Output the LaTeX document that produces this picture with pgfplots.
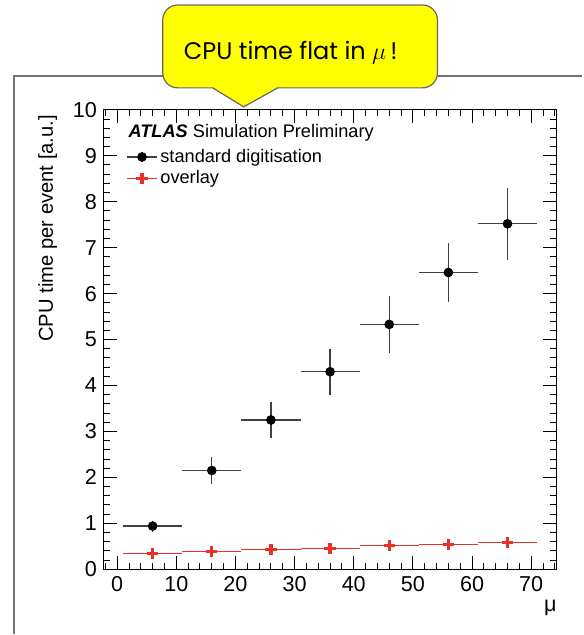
\documentclass[border=0pt]{standalone}
\usepackage{fontspec}
\setmainfont{Liberation Sans}
\newfontfamily\callfont{Poppins}
\usepackage{pgfplots}
\pgfplotsset{compat=1.18}
\usepackage{pgfplotstable}
\definecolor{atlasred}{RGB}{230,50,40}
\definecolor{callyellow}{RGB}{255,255,0}

\pgfplotstableread{
x y ex ey
6 0.94 5 0.12
16 2.15 5 0.30
26 3.25 5 0.39
36 4.30 5 0.50
46 5.33 5 0.62
56 6.46 5 0.65
66 7.52 5 0.78
}\stdtable

\pgfplotstableread{
x y ex ey
6 0.35 5 0.03
16 0.38 5 0.03
26 0.43 5 0.03
36 0.46 5 0.03
46 0.51 5 0.03
56 0.54 5 0.03
66 0.58 5 0.03
}\ovltable

\begin{document}
\begin{tikzpicture}
\path (0,0) rectangle (291.5pt,317.5pt);
% outer frame
\draw[black!55, line width=0.8pt] (7pt,0pt) -- (7pt,279.5pt) -- (291.5pt,279.5pt);

\begin{axis}[
  at={(52pt,32.5pt)}, anchor=south west,
  scale only axis, width=226.5pt, height=230pt,
  xmin=-2.25, xmax=74.25, ymin=0, ymax=10,
  xtick={0,10,...,70}, ytick={0,1,...,10},
  xticklabel pos=lower, yticklabel pos=left,
  major tick length=0pt, minor tick length=0pt,
  axis line style={line width=0.6pt},
  xticklabel={\pgfmathprintnumber[assume math mode=true]{\tick}},
  yticklabel={\pgfmathprintnumber[assume math mode=true]{\tick}},
  tick label style={font=\fontsize{10.8}{12}\selectfont},
  ylabel={CPU time per event [a.u.]},
  ylabel style={at={(axis description cs:-0.124,1.004)}, anchor=east, font=\fontsize{10.1}{12}\selectfont},
  xlabel={μ},
  xlabel style={at={(axis description cs:0.987,-0.083)}, anchor=center, font=\fontsize{10.8}{12}\selectfont},
  legend style={at={(axis cs:1.5,9.22)}, anchor=north west, draw=none, fill=none,
    inner sep=0pt, row sep=0pt, font=\fontsize{9.1}{10.5}\selectfont, cells={anchor=west},
    nodes={inner sep=1.4pt}},
  legend cell align=left,
]
\addplot[only marks, mark=*, mark size=2.2pt, black,
  legend image code/.code={
  \draw[black!75,line width=0.6pt] (0pt,0pt) -- (15pt,0pt);
  \draw[black!75,line width=0.6pt] (7.5pt,-2.5pt) -- (7.5pt,2.5pt);
  \fill[black] (7.5pt,0pt) circle (2.2pt);},
  error bars/.cd, x dir=both, x explicit, y dir=both, y explicit,
  error bar style={black!75, line width=0.6pt}, error mark=none]
  table[x=x, y=y, x error=ex, y error=ey] {\stdtable};
\addlegendentry{standard digitisation}
\addplot[only marks, mark=+, mark size=2.8pt, atlasred, mark options={line width=1.6pt},
  legend image code/.code={
  \draw[atlasred,line width=0.6pt] (0pt,0pt) -- (15pt,0pt);
  \draw[atlasred,line width=1.6pt] (7.5pt,-2.8pt) -- (7.5pt,2.8pt);
  \draw[atlasred,line width=1.6pt] (4.7pt,0pt) -- (10.3pt,0pt);},
  error bars/.cd, x dir=both, x explicit, y dir=both, y explicit,
  error bar style={atlasred, line width=0.5pt}, error mark=none]
  table[x=x, y=y, x error=ex, y error=ey] {\ovltable};
\addlegendentry{overlay}
\node[anchor=base west, font=\fontsize{9.1}{10.5}\selectfont] at (axis cs:0.74,9.39)
  {\textbf{\textit{ATLAS}} Simulation Preliminary};
\end{axis}

% axis ticks (ROOT style, on all four sides, pointing inward)
\begin{scope}[black, line width=0.5pt]
\foreach \v in {0,10,20,30,40,50,60,70} {
  \pgfmathsetmacro\px{52+(\v+2.25)*2.96078}
  \draw (\px pt,32.5pt) -- ++(0pt,6.5pt);
  \draw (\px pt,262.5pt) -- ++(0pt,-6.5pt);
}
\foreach \v in {-2,2,4,6,8,12,14,16,18,22,24,26,28,32,34,36,38,42,44,46,48,52,54,56,58,62,64,66,68,72,74} {
  \pgfmathsetmacro\px{52+(\v+2.25)*2.96078}
  \draw (\px pt,32.5pt) -- ++(0pt,3.2pt);
  \draw (\px pt,262.5pt) -- ++(0pt,-3.2pt);
}
\foreach \i in {0,...,50} {
  \pgfmathsetmacro\py{32.5+\i*4.6}
  \pgfmathtruncatemacro\m{mod(\i,5)}
  \ifnum\m=0
    \draw (52pt,\py pt) -- ++(6.5pt,0pt);
    \draw (278.5pt,\py pt) -- ++(-6.5pt,0pt);
  \else
    \draw (52pt,\py pt) -- ++(3.2pt,0pt);
    \draw (278.5pt,\py pt) -- ++(-3.2pt,0pt);
  \fi
}
\end{scope}

% callout
\filldraw[fill=callyellow, draw=black!60, line width=0.6pt, rounded corners=7.5pt]
  (81.5pt,273.5pt) rectangle (219pt,315pt);
\fill[callyellow] (106pt,274.2pt) -- (122pt,264pt) -- (139.5pt,274.2pt) -- cycle;
\draw[black!60, line width=0.6pt] (106.5pt,273.5pt) -- (122pt,264pt) -- (139pt,273.5pt);
\node[font=\callfont\fontsize{12}{14}\selectfont] at (145.5pt,291pt) {CPU time flat in $\mu$\,!};
\end{tikzpicture}
\end{document}
